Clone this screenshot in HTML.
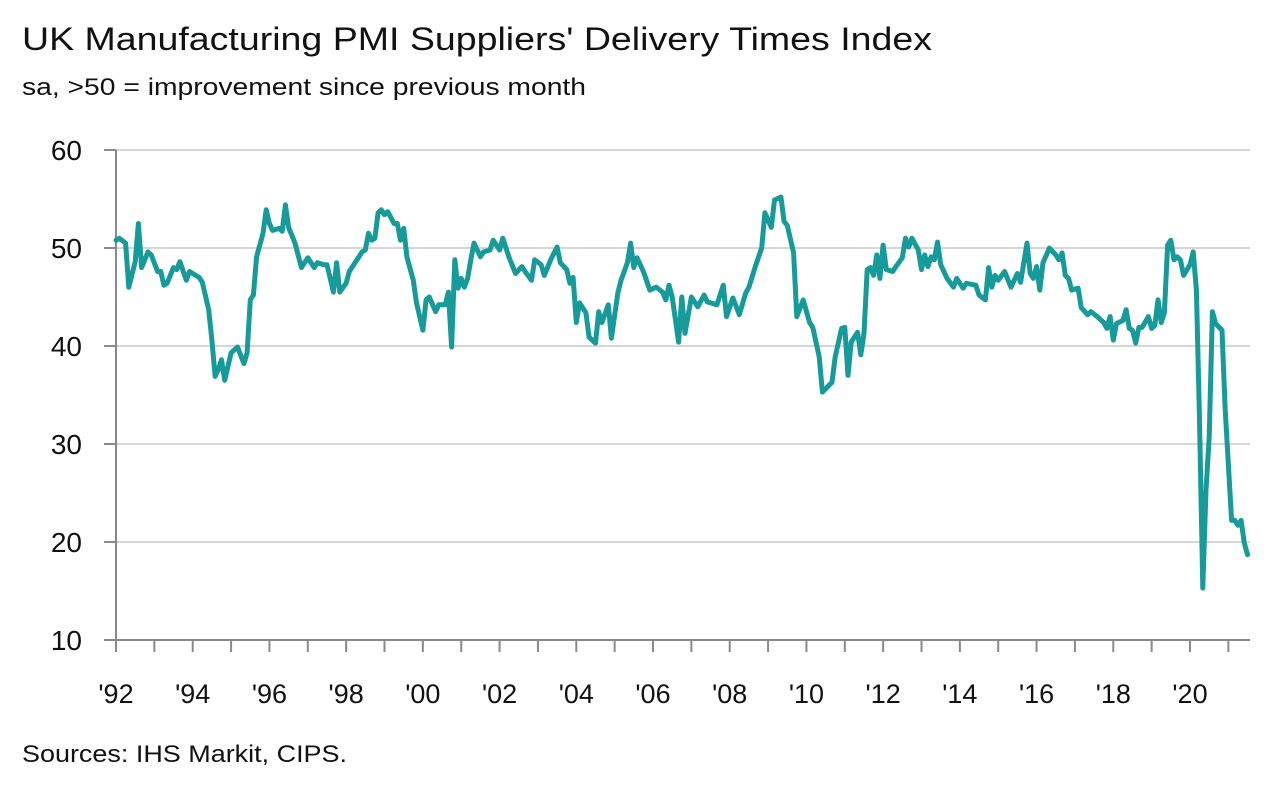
<!DOCTYPE html>
<html><head><meta charset="utf-8"><style>
body{margin:0;background:#fff;width:1286px;height:798px;overflow:hidden;font-family:"Liberation Sans",sans-serif;}
svg{display:block}
</style></head><body>
<svg id="chart" width="1286" height="798">
<text x="22" y="50" font-size="32" textLength="910" lengthAdjust="spacingAndGlyphs" fill="#111">UK Manufacturing PMI Suppliers' Delivery Times Index</text>
<text x="22" y="95" font-size="24" textLength="564" lengthAdjust="spacingAndGlyphs" fill="#111">sa, &gt;50 = improvement since previous month</text>
<text x="22" y="762" font-size="24" textLength="325" lengthAdjust="spacingAndGlyphs" fill="#111">Sources: IHS Markit, CIPS.</text>
<g id="grid"></g><g id="axes"></g><g id="series"></g>
</svg>
<script>
const yTicks=[10,20,30,40,50,60];
const xTickLabels=["'92","'94","'96","'98","'00","'02","'04","'06","'08","'10","'12","'14","'16","'18","'20"];
const months=[0,1,3,4,6,7,8,10,11,13,14,15,16,18,19,20,22,23,24,26,27,29,30,31,32,33,34,36,37,38,40,41,42,43,44,46,47,48,49,51,52,53,54,55,56,58,60,62,63,65,66,68,69,70,72,73,75,77,78,79,80,81,82,83,84,85,87,88,89,90,91,93,94,96,97,98,100,101,103,104,105,106,107,108,109,110,111,112,114,115,117,118,120,121,123,125,127,128,130,131,133,134,136,138,139,141,142,143,144,145,147,148,150,151,152,154,155,157,158,160,161,162,163,165,167,169,171,172,173,174,176,177,178,180,182,184,185,188,190,191,193,195,197,198,200,202,203,205,206,208,209,210,212,213,215,217,218,220,221,224,225,227,228,229,230,232,233,234,235,236,237,238,239,240,241,243,244,246,247,248,249,251,252,253,254,255,256,257,258,260,262,263,265,266,269,270,272,273,274,275,276,278,280,282,283,285,286,287,288,289,290,292,294,295,296,297,298,299,301,302,304,305,307,309,310,311,312,313,315,316,317,318,319,320,321,323,324,325,326,327,328,329,330,331,332,333,334,336,337,338,339,340,341,342,343,344,346,347,349,350,351,352,353,354];
const values=[50.8,51.0,50.5,46.0,48.6,52.5,48.0,49.6,49.3,47.6,47.6,46.2,46.4,48.0,47.8,48.6,46.7,47.6,47.4,47.0,46.5,43.7,40.6,36.9,37.6,38.6,36.5,39.3,39.6,39.9,38.2,39.3,44.7,45.2,49.1,51.5,53.9,52.5,51.8,52.0,51.7,54.4,52.1,51.3,50.5,48.0,49.0,48.0,48.5,48.3,48.3,45.5,48.5,45.5,46.4,47.6,48.6,49.6,49.8,51.5,50.8,51.0,53.6,53.9,53.4,53.7,52.5,52.5,50.8,52.0,49.1,46.7,44.4,41.6,44.7,45.0,43.5,44.2,44.2,45.5,39.9,48.8,45.9,46.9,46.0,46.9,48.8,50.5,49.1,49.6,49.8,50.8,49.8,51.0,49.0,47.4,48.1,47.6,46.7,48.8,48.3,47.2,48.8,50.1,48.5,47.8,46.4,47.0,42.4,44.4,43.4,40.9,40.3,43.5,42.4,44.2,40.8,45.4,46.7,48.5,50.5,48.0,49.0,47.6,45.7,46.0,45.5,44.7,46.2,45.0,40.4,45.0,41.3,45.0,44.0,45.2,44.5,44.2,46.2,43.0,44.9,43.2,45.4,46.0,48.1,50.0,53.6,52.1,54.9,55.2,52.7,52.3,49.5,43.0,44.7,42.4,41.9,38.9,35.3,36.3,38.9,41.8,41.9,37.0,40.4,41.4,39.1,41.3,47.8,48.0,47.2,49.3,46.9,50.3,47.8,47.6,48.1,49.0,51.0,50.1,51.0,49.8,47.8,49.3,48.1,49.1,48.8,50.6,48.3,46.9,46.0,46.9,45.9,46.4,46.2,45.2,44.7,48.0,46.0,47.2,46.7,47.6,46.0,47.4,46.5,50.5,47.4,46.9,48.1,45.7,48.5,50.0,49.3,48.8,49.5,47.2,46.9,45.7,45.9,43.9,43.2,43.5,43.0,42.4,41.8,43.0,40.6,42.3,42.6,43.7,41.8,41.6,40.3,41.9,41.9,43.0,41.8,42.1,44.7,42.4,43.4,50.3,50.8,48.8,49.1,48.8,47.2,48.3,49.6,45.7,32.1,15.3,25.3,30.7,43.5,42.3,41.6,33.5,22.2,22.2,21.7,22.2,19.9,18.7];
const NS='http://www.w3.org/2000/svg';
const X0=116,X1=1190,Y0=640,Y1=150,RIGHT=1250;
const xScale=m=>X0+m*(X1-X0)/336;
const yScale=v=>Y0-(v-10)*(Y0-Y1)/50;
function mk(tag,attrs,parent){const e=document.createElementNS(NS,tag);for(const k in attrs)e.setAttribute(k,attrs[k]);parent.appendChild(e);return e;}
const grid=document.getElementById('grid'),axes=document.getElementById('axes'),series=document.getElementById('series');
yTicks.forEach(v=>{
  const y=yScale(v);
  if(v>10){const g=mk('line',{x1:X0,x2:RIGHT,y1:y,y2:y,stroke:'#d6d6d6','stroke-width':2},grid);
  
  }
  const t=mk('line',{x1:104,x2:X0,y1:y,y2:y,stroke:'#8a8a8a','stroke-width':2},axes);
  
  
  const l=mk('text',{x:82,y:y+10,'font-size':28,'text-anchor':'end',fill:'#111'},axes);l.textContent=v;
  
  
});
const ya=mk('line',{x1:X0,x2:X0,y1:Y1,y2:Y0,stroke:'#8a8a8a','stroke-width':2},axes);


const xa=mk('line',{x1:104,x2:RIGHT,y1:Y0,y2:Y0,stroke:'#8a8a8a','stroke-width':2},axes);


for(let yr=0;yr<=29;yr++){
  const x=xScale(yr*12);
  const t=mk('line',{x1:x,x2:x,y1:Y0,y2:652,stroke:'#8a8a8a','stroke-width':2},axes);
  
  
}
xTickLabels.forEach((s,i)=>{
  const l=mk('text',{x:xScale(i*24),y:703,'font-size':27,'text-anchor':'middle',fill:'#111'},axes);l.textContent=s;
  
  
});
const d=months.map((m,i)=>(i?'L':'M')+xScale(m).toFixed(1)+','+yScale(values[i]).toFixed(1)).join('');
const p=mk('path',{d:d,fill:'none',stroke:'#169a9a','stroke-width':5,'stroke-linejoin':'round','stroke-linecap':'round'},series);


</script>
</body></html>
